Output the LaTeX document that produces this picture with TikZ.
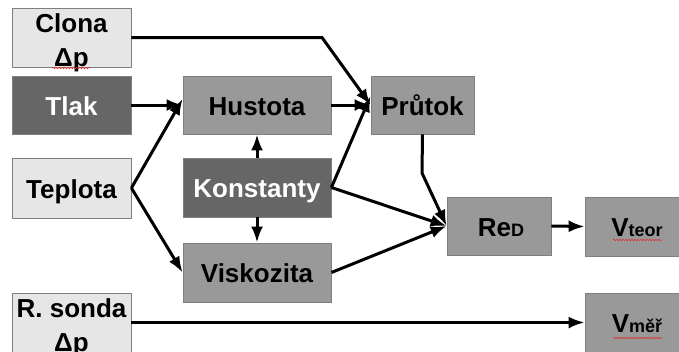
\documentclass[tikz,border=0pt]{standalone}
\usepackage{fontspec}
\setmainfont{Liberation Sans}
\usetikzlibrary{arrows.meta,decorations.pathmorphing}
\definecolor{boxlight}{HTML}{E6E6E6}
\definecolor{boxmid}{HTML}{999999}
\definecolor{boxdark}{HTML}{666666}
\definecolor{boxedge}{HTML}{7F7F7F}
\definecolor{spellred}{HTML}{E03030}
\newcommand{\subtxt}[1]{{\fontsize{18}{18}\selectfont #1}}
\begin{document}
\begin{tikzpicture}[x=1pt,y=-1pt,
  labeltext/.style={inner sep=0pt, text height=20pt, text depth=0pt,
    font=\fontsize{26}{34}\selectfont\bfseries},
  box/.style={draw=boxedge, line width=0.8pt, labeltext},
  lightbox/.style={box, fill=boxlight, text=black},
  midbox/.style={box, fill=boxmid, text=black},
  darkbox/.style={box, fill=boxdark, text=white},
  link/.style={line width=3pt, -{Latex[length=16pt,width=12pt]}},
  squiggle/.style={spellred, line width=0.6pt, decorate,
    decoration={snake, amplitude=0.8pt, segment length=3pt}}
]
\useasboundingbox (0,0) rectangle (679,351);
\clip (0,0) rectangle (679,351);

% inputs on the left
\node[lightbox, minimum width=119pt, minimum height=59pt] (clona) at (71.5,37.5) {};
\node[labeltext] (clona1) at (71.5,22) {Clona};
\node[labeltext] (clona2) at (71.5,56) {Δp};
\node[darkbox, minimum width=119pt, minimum height=58pt] (tlak) at (71.5,105) {Tlak};
\node[lightbox, minimum width=119pt, minimum height=60pt] (teplota) at (71.5,188) {Teplota};
\node[lightbox, minimum width=119pt, minimum height=59pt] (sonda) at (71.5,322.5) {};
\node[labeltext] (sonda1) at (71.5,307) {R. sonda};
\node[labeltext] (sonda2) at (71.5,341) {Δp};

% intermediate quantities
\node[midbox, minimum width=148pt, minimum height=58pt] (hustota) at (257,105) {Hustota};
\node[darkbox, minimum width=148pt, minimum height=59pt] (konst) at (257,187.5) {Konstanty};
\node[midbox, minimum width=148pt, minimum height=59pt] (visk) at (257,272.5) {Viskozita};
\node[midbox, minimum width=103pt, minimum height=58pt] (prutok) at (422.5,105) {Průtok};
\node[midbox, minimum width=104pt, minimum height=58pt] (re) at (499,226) {\hspace*{4pt}Re\subtxt{D}};

% results
\node[midbox, minimum width=104pt, minimum height=59pt] (vteor) at (637,226.5) {V\subtxt{teor}};
\node[midbox, minimum width=104pt, minimum height=59pt] (vmer) at (637,322.5) {V\subtxt{měř}};

% bend points
\coordinate (clonabend) at (322,37.5);
\coordinate (prutokbend) at (422,173);

% connectors
\draw[link] (clona.east) -- (clonabend) -- (prutok.west);
\draw[link] (tlak.east) -- (hustota.west);
\draw[link] (teplota.east) -- ([yshift=6pt]hustota.west);
\draw[link] (teplota.east) -- (visk.west);
\draw[link] (konst.north) -- (hustota.south);
\draw[link] (konst.south) -- (visk.north);
\draw[link] (hustota.east) -- (prutok.west);
\draw[link] (konst.east) -- ([yshift=9pt]prutok.west);
\draw[link] (konst.east) -- (re.west);
\draw[link] (visk.east) -- (re.west);
\draw[link] (prutok.south) -- (prutokbend) -- (re.west);
\draw[link] (re.east) -- (vteor.west);
\draw[link] (sonda.east) -- (vmer.west);

% spell-check underlines
\draw[squiggle] (52,68) -- (90,68);
\draw[squiggle] (613,240) -- (662,240);
\draw[squiggle] (613,338) -- (662,338);
\end{tikzpicture}
\end{document}
